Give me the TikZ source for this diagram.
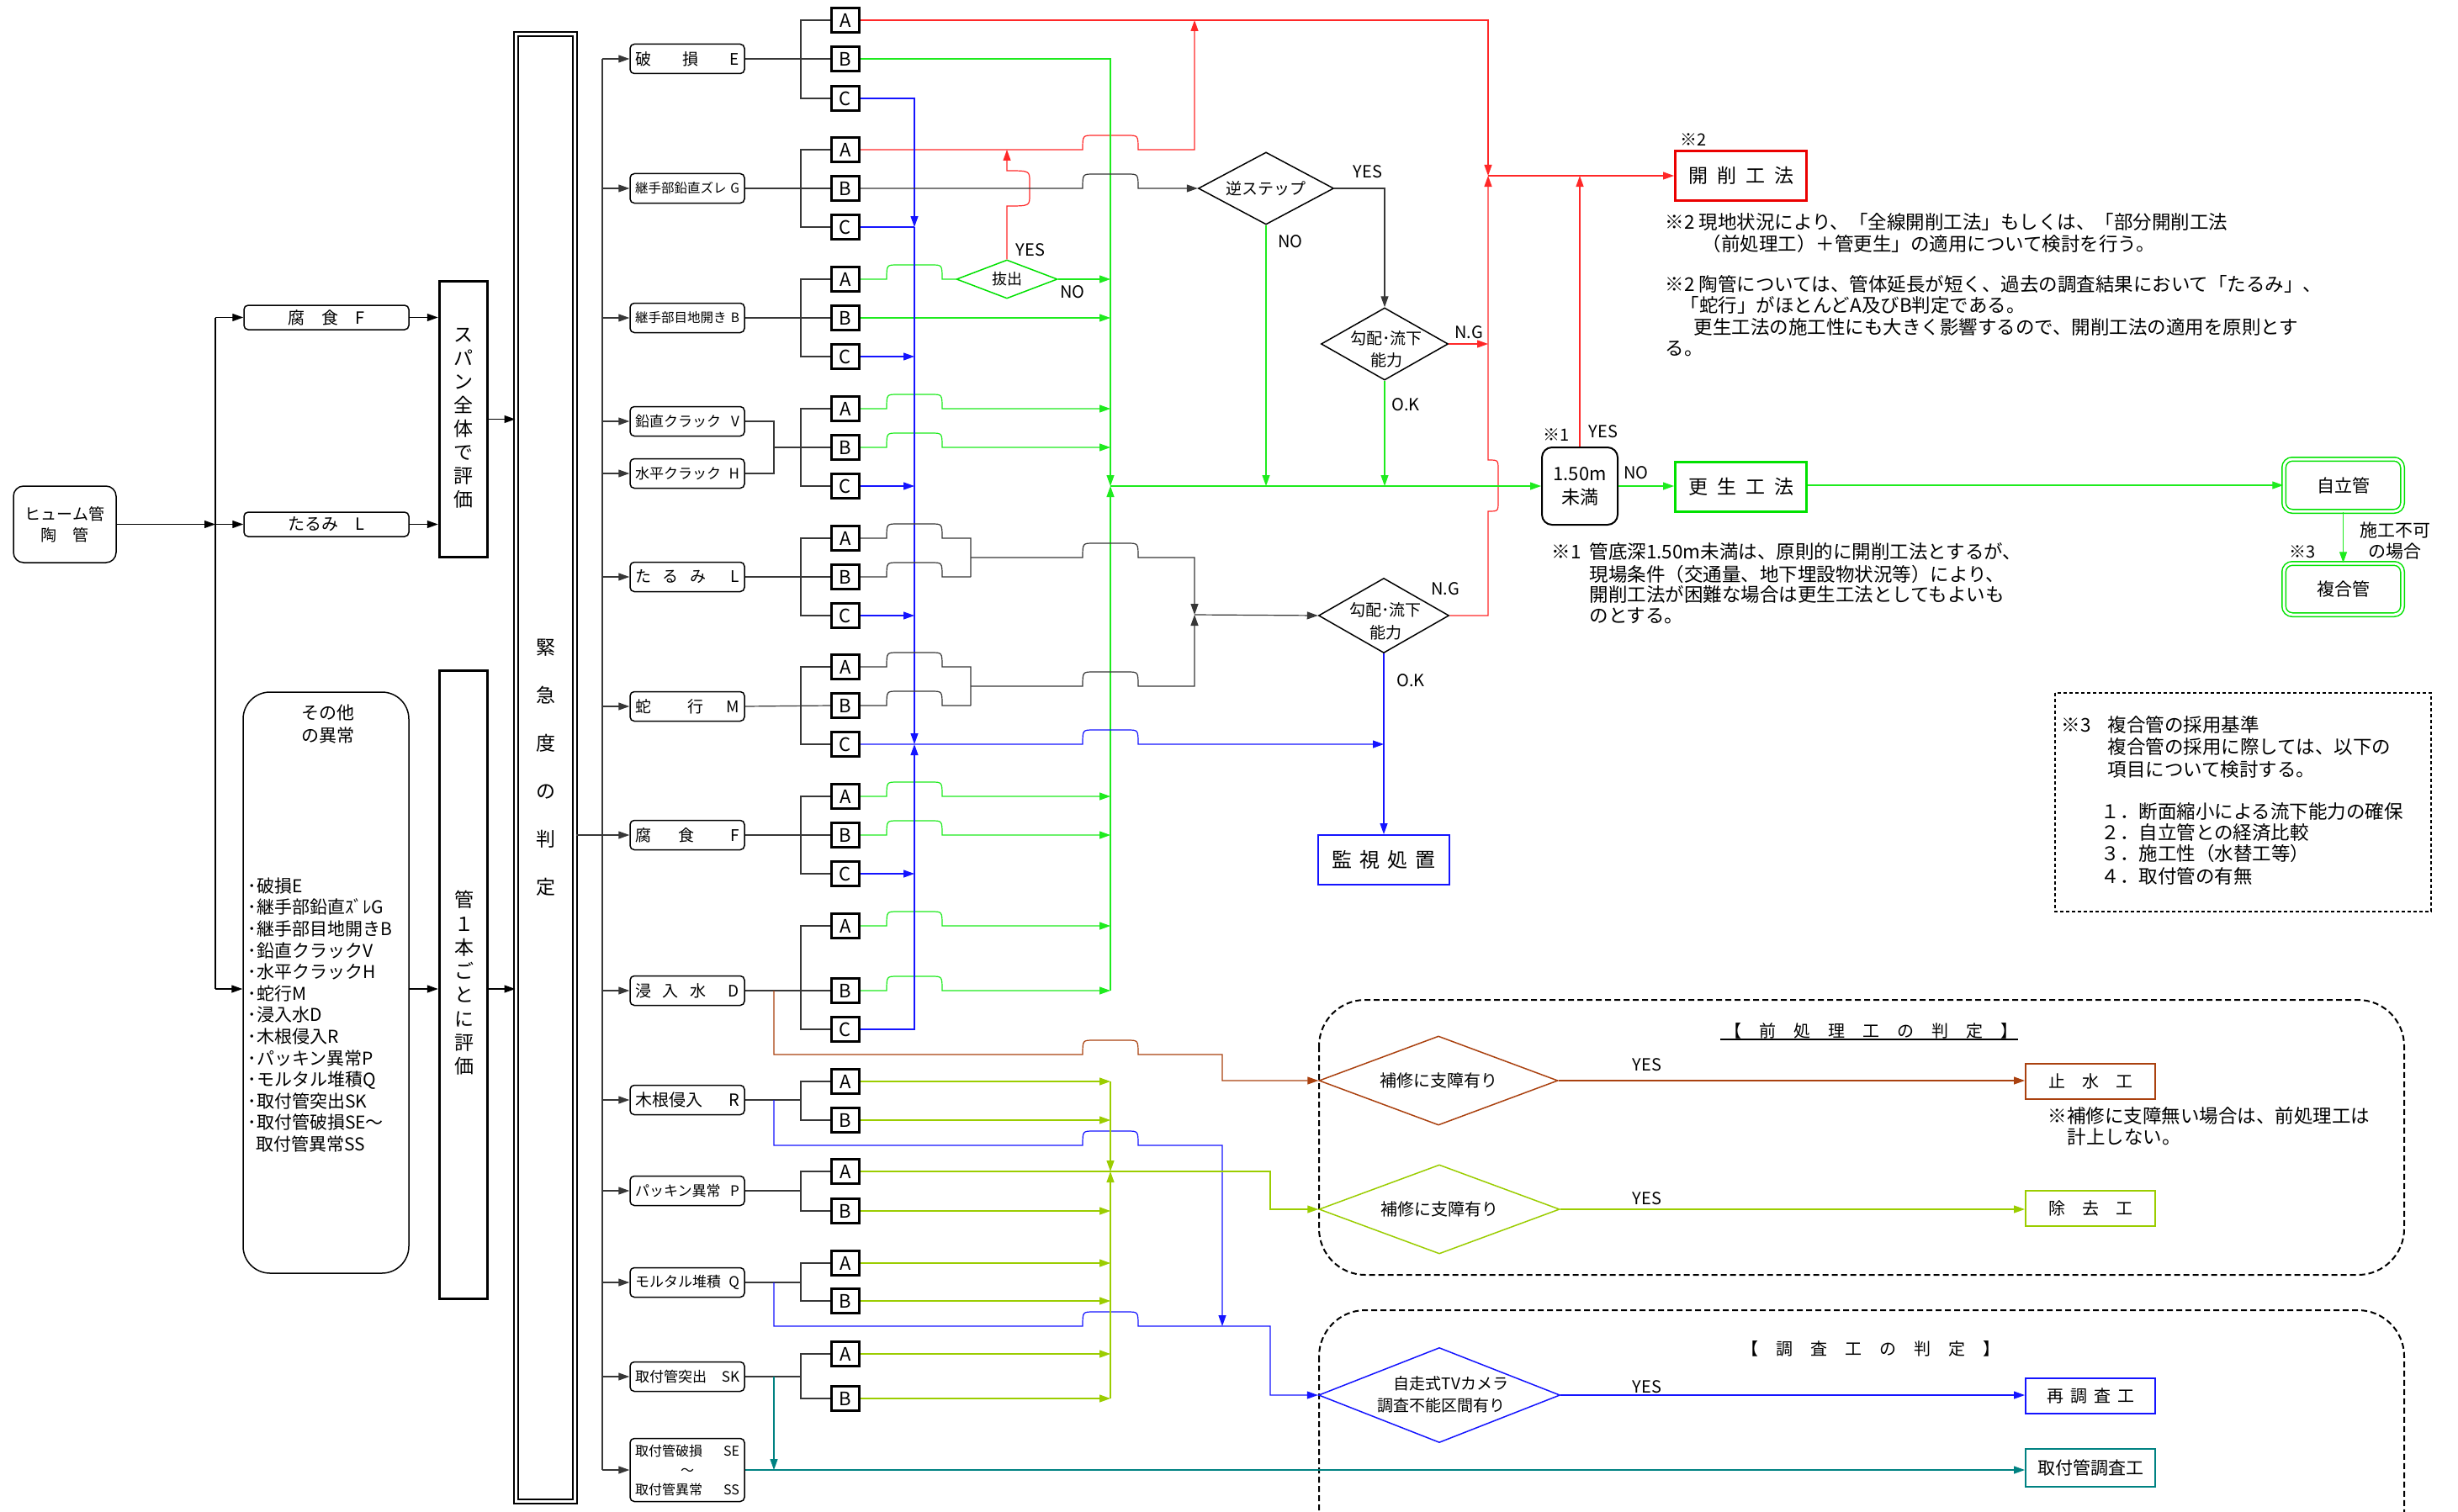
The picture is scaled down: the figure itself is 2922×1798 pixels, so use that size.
\documentclass[tikz,border=0pt]{standalone}
\usepackage{fontspec}
\setmainfont{Noto Sans CJK JP}
\usetikzlibrary{shapes.geometric,arrows.meta}
\definecolor{cRed}{RGB}{255,40,40}
\definecolor{cRedB}{RGB}{235,0,0}
\definecolor{cGreen}{RGB}{30,235,30}
\definecolor{cGreenB}{RGB}{0,225,0}
\definecolor{cBlue}{RGB}{20,20,255}
\definecolor{cBrown}{RGB}{170,65,15}
\definecolor{cYG}{RGB}{155,205,0}
\definecolor{cTeal}{RGB}{0,130,130}
\definecolor{cGray}{RGB}{55,55,55}
\newcommand\fs[2]{\fontsize{#1}{#2}\selectfont}
\newcommand\hp[2]{-- ({#1-33},#2) .. controls ({#1-33},{#2-17}) .. ({#1-20},{#2-17}) -- ({#1+20},{#2-17}) .. controls ({#1+33},{#2-17}) .. ({#1+33},#2)}
\begin{document}
\begin{tikzpicture}[x=1pt,y=-1pt, line width=1.2pt, >={Triangle[length=13pt,width=9pt]},
  rbox/.style={draw, line width=1.5pt, rounded corners=5pt, inner sep=0pt},
  dbox/.style={rbox, minimum width=136pt, minimum height=35pt, text width=124pt, align=left, font=\fs{17}{20}},
  abc/.style={draw, line width=3pt, minimum width=33pt, minimum height=29pt, inner sep=0pt, font=\fs{22}{24}},
  tbox/.style={draw, line width=3.5pt, inner sep=0pt},
  dia/.style={diamond, draw, line width=1.5pt, inner sep=0pt},
  lbl/.style={font=\fs{20}{22}, inner sep=0pt},
  note/.style={font=\fs{22.5}{26}, inner sep=0pt, anchor=west},
  cbox/.style={draw, line width=2pt, inner sep=0pt, minimum width=154pt, minimum height=42pt, font=\fs{20}{24}},
  dframe/.style={draw, line width=2pt, dash pattern=on 7pt off 4pt, rounded corners=55pt},
]
\fill[white] (0,0) rectangle (2922,1798);
\useasboundingbox (0,0) rectangle (2922,1798);

% ---------- reference coordinates
\coordinate (xLL) at (256,0);
\coordinate (xL) at (716,0);
\coordinate (xS) at (920,0);
\coordinate (xT) at (952,0);
\coordinate (xBB) at (1087,0);
\coordinate (xJ1) at (1154,0);
\coordinate (xGB) at (1320,0);
\coordinate (jR) at (1769,209);
\coordinate (jG) at (1320,578);
\coordinate (jK) at (1420,731);
\coordinate (r1176) at (0,1176);

% ---------- left part
\node[rbox, rounded corners=12pt, minimum width=122pt, minimum height=91pt, align=center, font=\fs{19}{25}] (hume) at (77,623.5) {ヒューム管\\陶\hspace{19pt}管};
\node[rbox, minimum width=196pt, minimum height=29pt, font=\fs{20}{22}] (fushoku) at (388,377.5) {腐\hspace{20pt}食\hspace{20pt}F};
\node[rbox, minimum width=196pt, minimum height=29pt, font=\fs{20}{22}] (tarumi) at (388,623.5) {たるみ\hspace{20pt}L};
\node[tbox, minimum width=57pt, minimum height=328pt] (span) at (551,498.5) {};
\node[font=\fs{23}{28}, align=center, inner sep=0pt] at (551,497) {ス\\パ\\ン\\全\\体\\で\\評\\価};
\node[rbox, rounded corners=32pt, minimum width=197pt, minimum height=691pt] (sonota) at (387.5,1168.5) {};
\node[font=\fs{21}{27}, align=center, inner sep=0pt] at (390,861.5) {その他\\の異常};
\node[font=\fs{21}{25.6}, align=left, inner sep=0pt, anchor=north west] at (294,1043) {･破損E\\･継手部鉛直ｽﾞﾚG\\･継手部目地開きB\\･鉛直クラックV\\･水平クラックH\\･蛇行M\\･浸入水D\\･木根侵入R\\･パッキン異常P\\･モルタル堆積Q\\･取付管突出SK\\･取付管破損SE～\\\hspace{10pt}取付管異常SS};
\node[tbox, minimum width=57pt, minimum height=747pt] (kan1) at (551,1171) {};
\node[font=\fs{23}{28.3}, align=center, inner sep=0pt] at (552,1169) {管\\１\\本\\ご\\と\\に\\評\\価};
\node[draw, line width=2pt, double, double distance=3pt, minimum width=70pt, minimum height=1745pt, inner sep=0pt] (kinkyu) at (648.5,913) {};
\node[font=\fs{23}{57}, align=center, inner sep=0pt] at (648.5,912.5) {緊\\急\\度\\の\\判\\定};

\draw[->] (hume.east) -- (xLL |- hume.east);
\draw (xLL |- fushoku.west) -- (xLL |- r1176);
\draw[->] (xLL |- fushoku.west) -- (fushoku.west);
\draw[->] (xLL |- tarumi.west) -- (tarumi.west);
\draw[->] (xLL |- r1176) -- (sonota.west |- r1176);
\draw[->] (fushoku.east) -- (span.west |- fushoku.east);
\draw[->] (tarumi.east) -- (span.west |- tarumi.east);
\draw[->] (span.east) -- (kinkyu.west |- span.east);
\draw[->] (sonota.east |- r1176) -- (kan1.west |- r1176);
\draw[->] (kan1.east |- r1176) -- (kinkyu.west |- r1176);

% ---------- defect boxes
\node[dbox, font=\fs{19}{22}] (dE) at (817,70) {破\hfill 損\hfill E};
\node[dbox, font=\fs{15.5}{18}] (dG) at (817,224) {継手部鉛直ズレ\hfill G};
\node[dbox, font=\fs{15.5}{18}] (dB) at (817,378) {継手部目地開き\hfill B};
\node[dbox] (dV) at (817,501) {鉛直クラック\hfill V};
\node[dbox] (dH) at (817,563) {水平クラック\hfill H};
\node[dbox, font=\fs{19}{22}] (dL) at (817,686) {た\hspace{14pt}る\hspace{14pt}み\hfill L};
\node[dbox, font=\fs{19}{22}] (dM) at (817,840) {蛇\hspace{44pt}行\hfill M};
\node[dbox, font=\fs{19}{22}] (dF) at (817,993) {腐\hspace{33pt}食\hfill F};
\node[dbox, font=\fs{19}{22}] (dD) at (817,1178) {浸\hspace{14pt}入\hspace{14pt}水\hfill D};
\node[dbox, font=\fs{20}{22}] (dR) at (817,1308) {木根侵入\hfill R};
\node[dbox] (dP) at (817,1416) {パッキン異常\hfill P};
\node[dbox] (dQ) at (817,1525) {モルタル堆積\hfill Q};
\node[dbox] (dK) at (817,1637) {取付管突出\hfill SK};
\node[dbox, minimum height=75pt, font=\fs{16}{23}] (dS) at (817,1748) {取付管破損\hfill SE\\\hfill ～\hfill\null\\取付管異常\hfill SS};

\draw[cGray] (xL |- dE.west) -- (xL |- dS.west);
\foreach \d in {dE,dG,dB,dV,dH,dL,dM,dF,dD,dR,dP,dQ,dK,dS} \draw[cGray,->] (xL |- \d.west) -- (\d.west);
\draw[cGray] (kinkyu.east |- dF.west) -- (xL |- dF.west);

% ---------- A B C boxes
\foreach \g/\ya/\yb/\yc in {1/24/70/117, 2/178/224/270, 3/332/378/424, 4/486/532/578, 5/640/686/732, 6/793/839/885, 7/947/993/1039, 8/1101/1178/1224}{
  \node[abc] (a\g A) at (1005,\ya) {A};
  \node[abc] (a\g B) at (1005,\yb) {B};
  \node[abc] (a\g C) at (1005,\yc) {C};
  \draw[cGray] (a\g A.west) -- (xT |- a\g A.west) -- (xT |- a\g C.west) -- (a\g C.west);
}
\foreach \g/\ya/\yb in {9/1286/1332, 10/1393/1440, 11/1502/1547, 12/1610/1663}{
  \node[abc] (a\g A) at (1005,\ya) {A};
  \node[abc] (a\g B) at (1005,\yb) {B};
  \draw[cGray] (a\g A.west) -- (xT |- a\g A.west) -- (xT |- a\g B.west) -- (a\g B.west);
}
\foreach \d/\g in {dE/1,dG/2,dB/3,dL/5,dM/6,dF/7,dD/8} \draw[cGray] (\d.east) -- (a\g B.west);
\draw[cGray] (dV.east) -- (xS |- dV.east) -- (xS |- dH.east) -- (dH.east);
\draw[cGray] (xS |- a4B.west) -- (a4B.west);
\foreach \d in {dR,dP,dQ,dK} \draw[cGray] (\d.east) -- (xT |- \d.east);

% ---------- decision nodes (upper right)
\node[dia, draw=cGreenB, minimum width=120pt, minimum height=46pt] (nuke) at (1197,332) {};
\node[font=\fs{18}{20}] at (1197,332) {抜出};
\node[dia, minimum width=161pt, minimum height=86pt] (gyaku) at (1505,224) {};
\node[font=\fs{19}{20}] at (1505,224) {逆ステップ};
\node[dia, minimum width=151pt, minimum height=86pt] (kobai1) at (1646,409) {};
\node[font=\fs{19}{26}, align=center, inner sep=0pt] at (1648,415) {勾配･流下\\能力};
\node[dia, minimum width=155pt, minimum height=89pt] (kobai2) at (1645,732) {};
\node[font=\fs{19}{27}, align=center, inner sep=0pt] at (1647,739) {勾配･流下\\能力};
\node[draw=cBlue, line width=2pt, minimum width=156pt, minimum height=59pt, inner sep=0pt, font=\fs{24}{26}] (kanshi) at (1645,1022.5) {監\hspace{9pt}視\hspace{9pt}処\hspace{9pt}置};

\node[draw=cRedB, line width=3pt, minimum width=156pt, minimum height=59pt, inner sep=0pt, font=\fs{23}{26}] (kaisaku) at (2069.5,209) {開\hspace{11pt}削\hspace{11pt}工\hspace{11pt}法};
\node[rbox, line width=2pt, rounded corners=12pt, minimum width=90pt, minimum height=92pt, align=center, font=\fs{22}{28}] (mm150) at (1878,578) {1.50m\\未満};
\node[draw=cGreenB, line width=3pt, minimum width=156pt, minimum height=59pt, inner sep=0pt, font=\fs{23}{26}] (kosei) at (2069.5,579) {更\hspace{11pt}生\hspace{11pt}工\hspace{11pt}法};
\node[draw=cGreenB, line width=1.5pt, double, double distance=3pt, rounded corners=10pt, minimum width=141pt, minimum height=62pt, inner sep=0pt, font=\fs{21}{24}] (jiritsu) at (2785.5,577) {自立管};
\node[draw=cGreenB, line width=1.5pt, double, double distance=3pt, rounded corners=10pt, minimum width=141pt, minimum height=61pt, inner sep=0pt, font=\fs{21}{24}] (fukugo) at (2785.5,700.5) {複合管};

% ---------- red connectors
\draw[cRed,->] (a1A.east) -| (jR);
\draw[cRed,->] (jR) -- (kaisaku.west);
\draw[cRed,->] (kobai1.east) -- (jR |- kobai1.east);
\draw[cRed,->] (kobai2.east) -- (jR |- kobai2.east) -- (1769,608) .. controls (1781,608) .. (1781,596) -- (1781,559) .. controls (1781,547) .. (1769,547) -- (jR);
\draw[cRed,->] (mm150.north) -- (mm150.north |- jR);
\draw[cRed,->] (a2A.east) \hp{1320}{178} -| (1420,24);
\draw[cRed,->] (nuke.north) -- (1197,245) .. controls (1224,245) .. (1224,232) -- (1224,216) .. controls (1224,203) .. (1197,203) -- (nuke.north |- a2A.east);

% ---------- green connectors
\draw[cGreen,->] (a1B.east) -| (jG);
\draw[cGreen,->] (a8B.east) \hp{1087}{1178} -- (xGB |- a8B.east);
\draw[cGreen,->] (xGB |- a8B.east) -- (jG);
\draw[cGreen,->] (nuke.east) -- (xGB |- nuke.east);
\draw[cGreen] (a3A.east) \hp{1087}{332} -- (nuke.west);
\draw[cGreen,->] (a3B.east) -- (xGB |- a3B.east);
\draw[cGreen,->] (a4A.east) \hp{1087}{486} -- (xGB |- a4A.east);
\draw[cGreen,->] (a4B.east) \hp{1087}{532} -- (xGB |- a4B.east);
\draw[cGreen,->] (a7A.east) \hp{1087}{947} -- (xGB |- a7A.east);
\draw[cGreen,->] (a7B.east) \hp{1087}{993} -- (xGB |- a7B.east);
\draw[cGreen,->] (a8A.east) \hp{1087}{1101} -- (xGB |- a8A.east);
\draw[cGreen,->] (jG) -- (mm150.west |- jG);
\draw[cGreen,->] (gyaku.south) -- (gyaku.south |- jG);
\draw[cGreen,->] (kobai1.south) -- (kobai1.south |- jG);
\draw[cGreen,->] (mm150.east) -- (kosei.west |- mm150.east);
\draw[cGreen,->] (kosei.east |- jiritsu.west) -- (jiritsu.west);
\draw[cGreen,->] (jiritsu.south) -- (fukugo.north);

% ---------- blue connectors
\draw[cBlue,->] (a1C.east) -| (xBB |- a2C.east);
\draw[cBlue] (a2C.east) -- (xBB |- a2C.east);
\draw[cBlue,->] (xBB |- a2C.east) -- (xBB |- a6C.east);
\foreach \g in {3,4,5,7} \draw[cBlue,->] (a\g C.east) -- (xBB |- a\g C.east);
\draw[cBlue,->] (a8C.east) -| (xBB |- a6C.east);
\draw[cBlue,->] (a6C.east) \hp{1320}{885} -- (kobai2.south |- a6C.east);
\draw[cBlue,->] (kobai2.south) -- (kanshi.north);

% ---------- black connectors
\draw[cGray,->] (a2B.east) \hp{1320}{224} -- (gyaku.west);
\draw[cGray,->] (gyaku.east) -| (kobai1.north);
\draw[cGray] (a5A.east) \hp{1087}{640} -- (xJ1 |- a5A.east) -- (xJ1 |- a5B.east);
\draw[cGray] (a5B.east) \hp{1087}{686} -- (xJ1 |- a5B.east);
\draw[cGray,->] (1154,663) \hp{1320}{663} -| (jK);
\draw[cGray] (a6A.east) \hp{1087}{793} -- (xJ1 |- a6A.east) -- (xJ1 |- a6B.east);
\draw[cGray] (a6B.east) \hp{1087}{839} -- (xJ1 |- a6B.east);
\draw[cGray,->] (1154,816) \hp{1320}{816} -| (jK);
\draw[cGray,->] (jK) -- (kobai2.west);

% ---------- labels upper right
\node[lbl] at (1225,297) {YES};
\node[lbl] at (1275,347) {NO};
\node[lbl] at (1626,204) {YES};
\node[lbl] at (1534,287) {NO};
\node[lbl] at (1746,395) {N.G};
\node[lbl] at (1671,481) {O.K};
\node[lbl] at (1718,700) {N.G};
\node[lbl] at (1677,809) {O.K};
\node[lbl] at (1906,513) {YES};
\node[lbl] at (1850,517) {※1};
\node[lbl] at (1945,562) {NO};
\node[lbl] at (2013,166) {※2};
\node[lbl] at (2737,656) {※3};
\node[font=\fs{21}{25}, align=center, inner sep=0pt] at (2847,643) {施工不可\\の場合};

\node[note] at (1979,264) {※2 現地状況により、「全線開削工法」もしくは、「部分開削工法};
\node[note] at (2023,290) {（前処理工）＋管更生」の適用について検討を行う。};
\node[note] at (1979,338) {※2 陶管については、管体延長が短く、過去の調査結果において「たるみ」、};
\node[note] at (1997,363) {「蛇行」がほとんどA及びB判定である。};
\node[note] at (2013,389) {更生工法の施工性にも大きく影響するので、開削工法の適用を原則とす};
\node[note] at (1979,415) {る。};

\node[note] at (1844,656) {※1};
\node[note] at (1889,656) {管底深1.50m未満は、原則的に開削工法とするが、};
\node[note] at (1889,683) {現場条件（交通量、地下埋設物状況等）により、};
\node[note] at (1889,707) {開削工法が困難な場合は更生工法としてもよいも};
\node[note] at (1889,732) {のとする。};

% ---------- note 3 box
\draw[line width=1.2pt, dash pattern=on 4pt off 3pt] (2443,824) rectangle (2890,1084);
\node[note] at (2450,862) {※3};
\node[note] at (2505,862) {複合管の採用基準};
\node[note] at (2505,888) {複合管の採用に際しては、以下の};
\node[note] at (2505,915) {項目について検討する。};
\node[note] at (2497,965) {１．断面縮小による流下能力の確保};
\node[note] at (2497,990) {２．自立管との経済比較};
\node[note] at (2497,1015) {３．施工性（水替工等）};
\node[note] at (2497,1042) {４．取付管の有無};

% ---------- lower frames
\draw[dframe] (1568,1189) rectangle (2858,1516);
\draw[dframe] (1568,1558) rectangle (2858,1900);
\node[font=\fs{20}{22}, inner sep=0pt] (t1) at (2224,1226) {【\hspace{21pt}前\hspace{21pt}処\hspace{21pt}理\hspace{21pt}工\hspace{21pt}の\hspace{21pt}判\hspace{21pt}定\hspace{21pt}】};
\draw[line width=2.5pt] ([xshift=-4pt]t1.south west) -- (t1.south east);
\node[font=\fs{20}{22}, inner sep=0pt] (t2) at (2224,1604) {【\hspace{21pt}調\hspace{21pt}査\hspace{21pt}工\hspace{21pt}の\hspace{21pt}判\hspace{21pt}定\hspace{21pt}】};

\node[dia, draw=cBrown, minimum width=284pt, minimum height=106pt] (hokuA) at (1710,1285) {};
\node[font=\fs{20}{22}] at (1710,1285) {補修に支障有り};
\node[dia, draw=cYG, minimum width=286pt, minimum height=106pt] (hokuB) at (1711,1438) {};
\node[font=\fs{20}{22}] at (1711,1438) {補修に支障有り};
\node[dia, draw=cBlue, minimum width=287pt, minimum height=113pt] (tvdia) at (1711,1659) {};
\node[font=\fs{19}{22}] at (1725,1645) {自走式TVカメラ};
\node[font=\fs{19}{22}] at (1713,1671) {調査不能区間有り};

\node[cbox, draw=cBrown] (shisui) at (2485,1286) {止\hspace{20pt}水\hspace{20pt}工};
\node[cbox, draw=cYG] (jokyo) at (2485,1437) {除\hspace{20pt}去\hspace{20pt}工};
\node[cbox, draw=cBlue] (saicho) at (2485,1660) {再\hspace{8pt}調\hspace{8pt}査\hspace{8pt}工};
\node[cbox, draw=cTeal, minimum height=45pt, font=\fs{21}{24}] (toritsuke) at (2485,1745.5) {取付管調査工};
\node[note] at (2434,1327) {※補修に支障無い場合は、前処理工は};
\node[note] at (2457,1352) {計上しない。};
\node[lbl] at (1958,1266) {YES};
\node[lbl] at (1958,1425) {YES};
\node[lbl] at (1958,1649) {YES};

% ---------- lower connectors
\draw[cBrown,->] (xS |- dD.east) -- (920,1254) \hp{1320}{1254} -- (1453,1254) |- (hokuA.west);
\draw[cBrown,->] (hokuA.east) -- (shisui.west |- hokuA.east);
\draw[cBlue,->] (xS |- dR.east) -- (920,1362) \hp{1320}{1362} -| (1453,1577);
\draw[cBlue,->] (xS |- dQ.east) -- (920,1577) \hp{1320}{1577} -- (1510,1577) |- (tvdia.west);
\draw[cBlue,->] (tvdia.east) -- (saicho.west |- tvdia.east);
\foreach \g/\l in {9/A,9/B,10/B,11/A,11/B,12/A,12/B} \draw[cYG,->] (a\g\l.east) -- (xGB |- a\g\l.east);
\draw[cYG,->] (xGB |- a9A.east) -- (xGB |- a10A.east);
\draw[cYG,->] (xGB |- a12B.east) -- (xGB |- a10A.east);
\draw[cYG,->] (a10A.east) -- (1510,1393) |- (hokuB.west);
\draw[cYG,->] (hokuB.east) -- (jokyo.west |- hokuB.east);
\draw[cTeal,->] (xS |- dK.east) -- (xS |- dS.east);
\draw[cTeal,->] (dS.east) -- (toritsuke.west |- dS.east);
\end{tikzpicture}
\end{document}
